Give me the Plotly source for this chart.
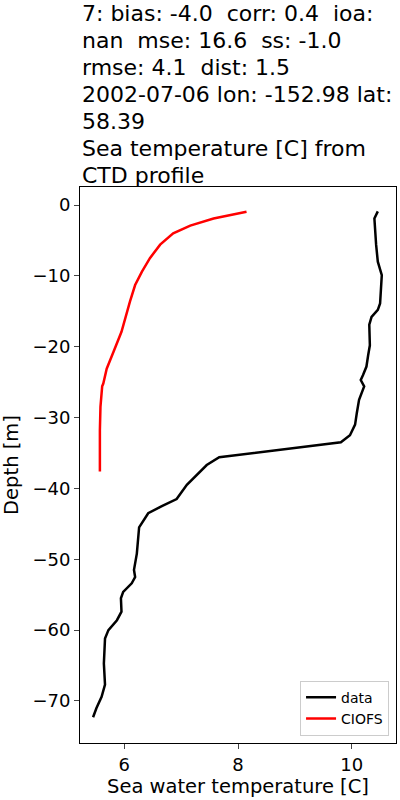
import plotly.graph_objects as go

data_temp = [10.46, 10.40, 10.43, 10.46, 10.53, 10.50, 10.46, 10.35, 10.31, 10.32, 10.29, 10.26,
             10.20, 10.16, 10.22, 10.13, 10.09, 10.06, 9.97, 9.81, 7.67, 7.45, 7.10, 6.92, 6.66,
             6.42, 6.26, 6.22, 6.17, 6.19, 6.13, 5.98, 5.94, 5.95, 5.87, 5.72, 5.66, 5.64, 5.66,
             5.60, 5.51, 5.45]
data_depth = [-0.9, -1.9, -5.6, -8.0, -9.9, -13.9, -14.8, -15.8, -16.9, -19.8, -21.2, -22.8,
              -24.0, -24.7, -25.6, -27.5, -29.4, -31.0, -32.5, -33.5, -35.6, -36.7, -39.5, -41.5,
              -42.5, -43.5, -45.5, -49.2, -51.5, -52.5, -53.4, -54.6, -55.5, -57.4, -58.6, -60.0,
              -61.2, -64.7, -67.7, -69.4, -71.0, -72.3]

model_temp = [8.15, 7.57, 7.16, 6.86, 6.63, 6.45, 6.31, 6.19, 6.10, 5.95, 5.81, 5.69, 5.63,
              5.61, 5.58, 5.57, 5.57]
model_depth = [-0.94, -1.9, -2.9, -4.0, -5.6, -7.5, -9.4, -11.3, -13.6, -17.9, -20.7, -23.1,
               -25.2, -25.6, -28.5, -31.8, -37.6]

title_lines = [
    "7: bias: -4.0  corr: 0.4  ioa:",
    "nan  mse: 16.6  ss: -1.0",
    "rmse: 4.1  dist: 1.5",
    "2002-07-06 lon: -152.98 lat:",
    "58.39",
    "Sea temperature [C] from",
    "CTD profile",
]
x_ticks = [6, 8, 10]
y_ticks = [0, -10, -20, -30, -40, -50, -60, -70]

font = "DejaVu Sans"
W, H = 400, 800
ML, MR, MT, MB = 80, 4, 187, 57
plot_h = H - MT - MB

fig = go.Figure()
fig.add_trace(go.Scatter(x=data_temp, y=data_depth, mode="lines", name="data",
                         line=dict(color="black", width=2.5)))
fig.add_trace(go.Scatter(x=model_temp, y=model_depth, mode="lines", name="CIOFS",
                         line=dict(color="red", width=2.5)))

# title lines, one per row (matplotlib-like tight line spacing)
first_center_px = 13.5
line_step_px = 27.0
for i, line in enumerate(title_lines):
    py = first_center_px + i * line_step_px
    fig.add_annotation(text=line, xref="paper", yref="paper", x=0,
                       y=(H - MB - py) / plot_h, xanchor="left", yanchor="middle",
                       showarrow=False, align="left",
                       font=dict(family=font, size=22, color="black"))

fig.update_layout(
    width=W, height=H,
    margin=dict(l=ML, r=MR, t=MT, b=MB),
    paper_bgcolor="white", plot_bgcolor="white",
    font=dict(family=font, size=18, color="black"),
    showlegend=True,
    legend=dict(x=0.978, y=0.013, xanchor="right", yanchor="bottom",
                bgcolor="white", bordercolor="#cccccc", borderwidth=1,
                font=dict(family=font, size=14)),
    xaxis=dict(range=[5.22, 10.78], tickvals=x_ticks, ticks="outside", ticklen=5,
               showline=True, linecolor="black", linewidth=1, mirror=True,
               showgrid=False, zeroline=False,
               title=dict(text="Sea water temperature [C]", standoff=3,
                          font=dict(family=font, size=19.5))),
    yaxis=dict(range=[-75.93, 2.54], tickvals=y_ticks, ticks="outside", ticklen=5,
               showline=True, linecolor="black", linewidth=1, mirror=True,
               showgrid=False, zeroline=False,
               title=dict(text="Depth [m]", standoff=8,
                          font=dict(family=font, size=19.5))),
)

fig.write_html("out.html", config={"displayModeBar": False},
               post_script="document.body.style.margin='0';document.body.style.overflow='hidden';")
